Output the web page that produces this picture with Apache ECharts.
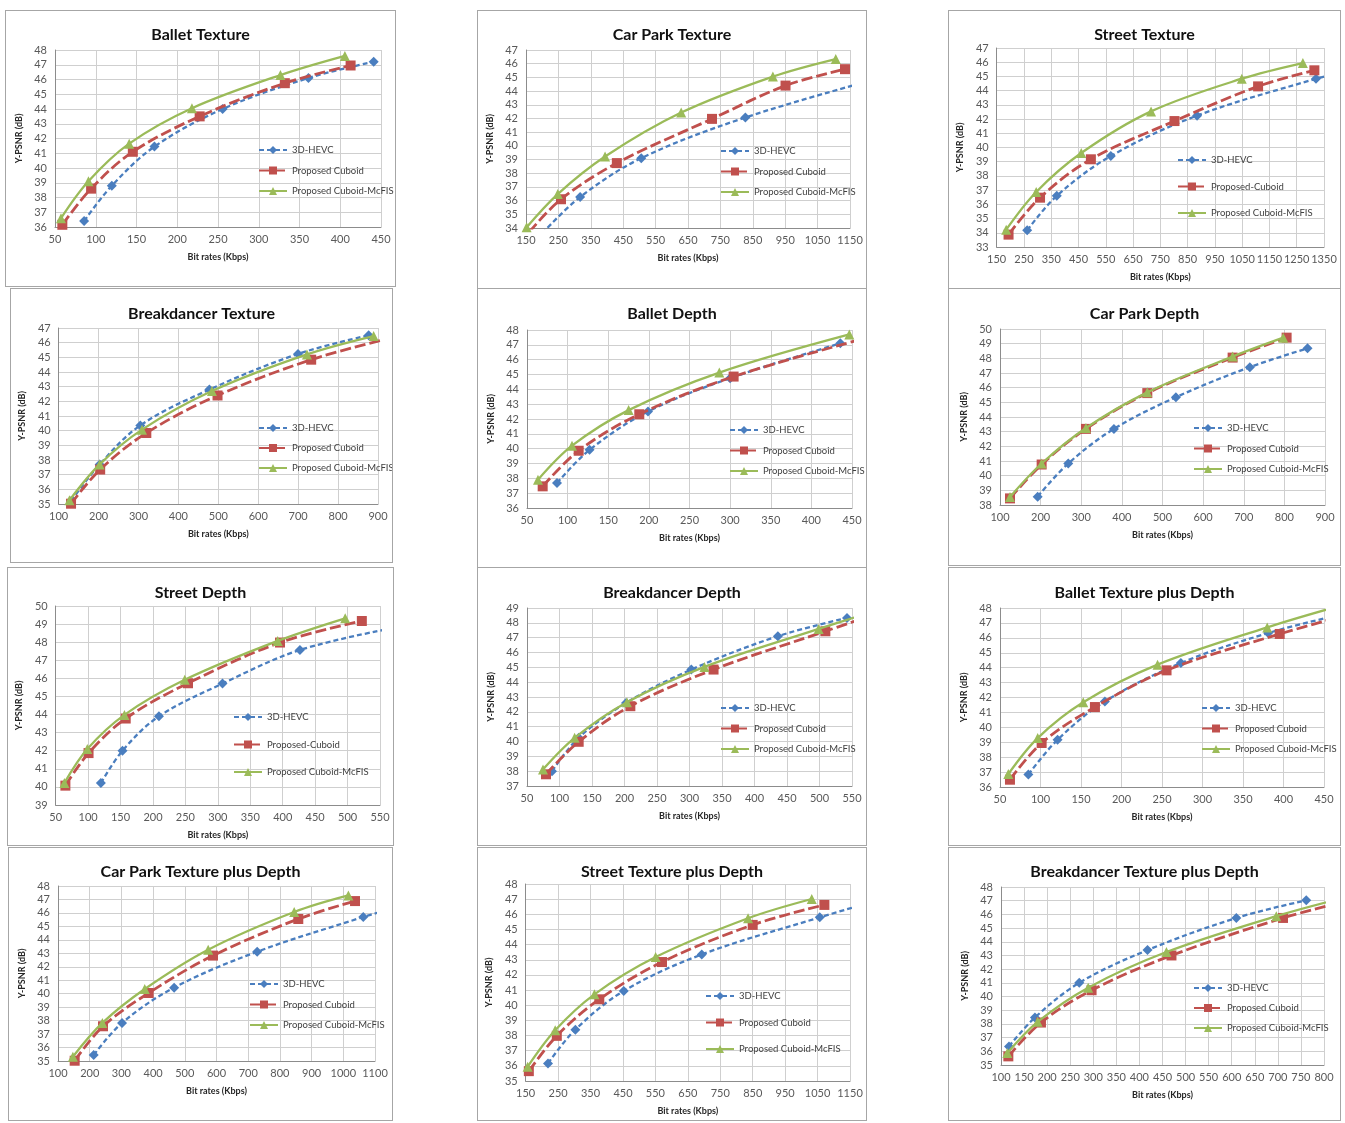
<!DOCTYPE html>
<html><head><meta charset="utf-8">
<script src="https://cdn.jsdelivr.net/npm/echarts@6/dist/echarts.min.js"></script>
<style>
body{margin:0;background:#fff;width:1345px;height:1123px;position:relative;overflow:hidden}
.c{position:absolute}
.b{position:absolute;box-sizing:border-box;border:1px solid #a6a6a6;pointer-events:none}
</style>
</head><body>
<script>
// ---------- data (x = bit rate Kbps, y = Y-PSNR dB) ----------
const balletTexture_hevc   = [[85.7,36.4],[119.7,38.8],[172,41.45],[255.7,44.0],[361,46.1],[441,47.2]];
const balletTexture_cuboid = [[59,36.15],[94.3,38.6],[145.5,41.1],[227.5,43.5],[332,45.75],[412.7,46.95]];
const balletTexture_mcfis  = [[57.4,36.6],[91,39.1],[141,41.65],[218,44.05],[326.6,46.3],[405.7,47.6]];

const carParkTexture_hevc   = [[200,33.6],[317,36.26],[505.7,39.1],[827,42.07],[1250,45.0]];
const carParkTexture_cuboid = [[160,33.7],[258,36.1],[430.4,38.74],[724,41.97],[951,44.4],[1134.5,45.6]];
const carParkTexture_mcfis  = [[152,34.05],[248,36.48],[394,39.22],[629,42.43],[912,45.06],[1106,46.34]];

const streetTexture_hevc   = [[262,34.17],[370.4,36.6],[568.5,39.4],[884.6,42.24],[1320.6,44.84],[1400,45.2]];
const streetTexture_cuboid = [[193.6,33.87],[309,36.47],[495.4,39.17],[801.9,41.86],[1108.4,44.3],[1314.7,45.43]];
const streetTexture_mcfis  = [[185,34.22],[295,36.87],[460,39.61],[716,42.54],[1048.6,44.84],[1272.5,45.94]];

const breakTexture_hevc   = [[131,35.2],[202.7,37.7],[304.6,40.36],[477.5,42.8],[699.6,45.23],[876.6,46.5]];
const breakTexture_cuboid = [[131,35.02],[204,37.35],[319.6,39.84],[498,42.4],[732.6,44.84],[915,46.2]];
const breakTexture_mcfis  = [[127,35.25],[202.7,37.7],[308.8,40.07],[484,42.7],[722,45.2],[889,46.45]];

const balletDepth_hevc   = [[86.9,37.68],[127,39.92],[198.9,42.5],[300,44.75],[435.6,47.1]];
const balletDepth_cuboid = [[69.3,37.46],[113.6,39.86],[188.2,42.32],[304.3,44.86],[470,47.5]];
const balletDepth_mcfis  = [[63.5,37.9],[105.4,40.2],[175.1,42.6],[286.7,45.13],[446.7,47.7]];

const carParkDepth_hevc   = [[192.7,38.57],[268,40.83],[380.5,43.19],[533,45.35],[715,47.4],[857,48.68]];
const carParkDepth_cuboid = [[124.6,38.45],[202.5,40.76],[311.6,43.19],[462.6,45.63],[672.6,48.05],[805.5,49.41]];
const carParkDepth_mcfis  = [[124.6,38.55],[202.5,40.83],[311.6,43.25],[462.6,45.68],[672.6,48.12],[797.3,49.41]];

const streetDepth_hevc   = [[119.7,40.21],[153,42.0],[209.2,43.9],[307.2,45.71],[426.6,47.57],[580,48.85]];
const streetDepth_cuboid = [[65,40.07],[100.7,41.87],[158,43.78],[254,45.73],[395.8,47.98],[522,49.17]];
const streetDepth_mcfis  = [[63.4,40.21],[98.8,42.09],[156,43.98],[249,45.92],[392.3,48.07],[496.3,49.32]];

const breakDepth_hevc   = [[88.5,38.0],[129.5,40.25],[202.3,42.6],[302.8,44.85],[436,47.1],[542.3,48.33]];
const breakDepth_cuboid = [[79.2,37.79],[129.5,39.98],[209,42.38],[337,44.85],[509,47.43],[560,48.2]];
const breakDepth_mcfis  = [[74.6,38.12],[123.3,40.25],[203.8,42.65],[323,45.03],[498.7,47.59],[560,48.45]];

const balletTD_hevc   = [[85,36.83],[121.1,39.17],[179.5,41.74],[273.3,44.31],[381,46.32],[470,47.55]];
const balletTD_cuboid = [[62.3,36.49],[101.4,38.95],[167.2,41.36],[255.6,43.82],[395.3,46.26],[470,47.4]];
const balletTD_mcfis  = [[60.3,36.87],[96.5,39.28],[152.8,41.68],[244.5,44.2],[379.9,46.7],[470,48.15]];

const carParkTD_hevc   = [[212.6,35.44],[302,37.83],[466.3,40.45],[728.4,43.12],[1063,45.7],[1120,46.1]];
const carParkTD_cuboid = [[152.6,35.02],[242,37.58],[386,40.05],[589,42.83],[858,45.55],[1037,46.88]];
const carParkTD_mcfis  = [[147,35.32],[240,37.83],[373.7,40.35],[573.7,43.27],[845,46.07],[1016,47.3]];

const streetTD_hevc   = [[218.8,36.16],[303.2,38.39],[452.5,40.94],[693,43.35],[1056.7,45.8],[1200,46.7]];
const streetTD_cuboid = [[159.8,35.65],[246,37.98],[377,40.39],[570.4,42.85],[850,45.3],[1071,46.62]];
const streetTD_mcfis  = [[156,35.94],[241,38.35],[362,40.72],[550.8,43.18],[835.7,45.74],[1032,47.01]];

const breakTD_hevc   = [[117.3,36.36],[173.6,38.47],[269.6,41.0],[417.5,43.39],[610,45.74],[761.6,47.03]];
const breakTD_cuboid = [[115.9,35.63],[186.6,38.1],[296.3,40.46],[469.4,43.0],[711.2,45.74],[830,46.8]];
const breakTD_mcfis  = [[113.7,35.87],[179.4,38.15],[289,40.65],[458.6,43.25],[696.7,45.87],[830,47.1]];

// ---------- titles, legend names, axis ranges [min,max,step] ----------
const titles = ['Ballet Texture','Car Park Texture','Street Texture','Breakdancer Texture','Ballet Depth','Car Park Depth',
  'Street Depth','Breakdancer Depth','Ballet Texture plus Depth','Car Park Texture plus Depth','Street Texture plus Depth','Breakdancer Texture plus Depth'];
const namesStd = ['3D-HEVC','Proposed Cuboid','Proposed Cuboid-McFIS'];
const namesHyph = ['3D-HEVC','Proposed-Cuboid','Proposed Cuboid-McFIS'];
const legendNames = [namesStd,namesStd,namesHyph,namesStd,namesStd,namesStd,namesHyph,namesStd,namesStd,namesStd,namesStd,namesStd];
const xRanges = [[50,450,50],[150,1150,100],[150,1350,100],[100,900,100],[50,450,50],[100,900,100],
  [50,550,50],[50,550,50],[50,450,50],[100,1100,100],[150,1150,100],[100,800,50]];
const yRanges = [[36,48,1],[34,47,1],[33,47,1],[35,47,1],[36,48,1],[38,50,1],
  [39,50,1],[37,49,1],[36,48,1],[35,48,1],[35,48,1],[35,48,1]];
const seriesData = [
  [balletTexture_hevc,balletTexture_cuboid,balletTexture_mcfis],
  [carParkTexture_hevc,carParkTexture_cuboid,carParkTexture_mcfis],
  [streetTexture_hevc,streetTexture_cuboid,streetTexture_mcfis],
  [breakTexture_hevc,breakTexture_cuboid,breakTexture_mcfis],
  [balletDepth_hevc,balletDepth_cuboid,balletDepth_mcfis],
  [carParkDepth_hevc,carParkDepth_cuboid,carParkDepth_mcfis],
  [streetDepth_hevc,streetDepth_cuboid,streetDepth_mcfis],
  [breakDepth_hevc,breakDepth_cuboid,breakDepth_mcfis],
  [balletTD_hevc,balletTD_cuboid,balletTD_mcfis],
  [carParkTD_hevc,carParkTD_cuboid,carParkTD_mcfis],
  [streetTD_hevc,streetTD_cuboid,streetTD_mcfis],
  [breakTD_hevc,breakTD_cuboid,breakTD_mcfis]
];

// ---------- layout (page pixels) ----------
const boxes = [[5,10,391,277],[477,10,390,279],[948,10,393,279],
  [10,288,383,275],[477,288,390,280],[948,288,393,278],
  [7,567,387,279],[477,567,390,279],[948,567,393,279],
  [8,847,385,274],[477,847,390,274],[948,847,393,274]];
const plots = [[55,50,381,227],[526,50,850,228],[985,48,1324,247],
  [58,328,378,504],[527,330,852,508],[1000,329,1325,505],
  [45,606,380,805],[527,608,852,786],[1000,608,1324,787],
  [58,886,375,1061],[511,884,850,1082],[1001,887,1324,1065]];
const titleY = [32,32,32,311,311,311,590,590,590,869,869,869];
const legends = [[253,145,20.5],[715,146,20.5],[1172,155,26.5],
  [253,423,20],[724,425,20.5],[1188,423,20.5],
  [228,712,27.5],[715,703,20.5],[1196,703,20.5],
  [244,979,20.5],[700,991,26.5],[1188,983,20]];

const FONT = 'Lato, "Liberation Sans", sans-serif';
const styles = [
  {color:'#4a7ebf', symbol:'diamond', size:10, width:2.3, type:[5,3]},
  {color:'#c0504d', symbol:'rect', size:10, width:2.8, type:[11,4]},
  {color:'#9bbb59', symbol:'triangle', size:10, width:2.3, type:'solid'}
];

for (let i = 0; i < 12; i++) {
  const [bx,by,bw,bh] = boxes[i];
  const [pl,pt,pr,pb] = plots[i];
  const el = document.createElement('div');
  el.className = 'c';
  el.style.cssText = `left:${bx}px;top:${by}px;width:${bw}px;height:${bh}px`;
  document.body.appendChild(el);
  const br = document.createElement('div');
  br.className = 'b';
  br.style.cssText = `left:${bx}px;top:${by}px;width:${bw}px;height:${bh}px`;
  document.body.appendChild(br);

  const chart = echarts.init(el, null, {renderer:'canvas'});
  const [lx,ly,lg] = legends[i];
  const axisCommon = {
    type:'value',
    axisLine:{show:true, lineStyle:{color:'#8c8c8c', width:1}},
    axisTick:{show:false},
    splitLine:{show:true, lineStyle:{color:'#cfcfcf', width:1}},
    axisLabel:{color:'#595959', fontSize:11, fontFamily:FONT, formatter:(v)=>String(v)},
    nameLocation:'middle',
    nameTextStyle:{fontWeight:'bold', fontSize:9, color:'#262626', fontFamily:FONT}
  };
  chart.setOption({
    animation:false,
    backgroundColor:'#fff',
    title:{text:titles[i], left:'center', top:titleY[i]-by-10,
      textStyle:{fontSize:16, fontWeight:'bold', color:'#111', fontFamily:FONT}},
    grid:{left:pl-bx, top:pt-by, width:pr-pl, height:pb-pt, containLabel:false},
    legend:{orient:'vertical', left:lx-bx, top:ly-by-6, itemWidth:28, itemHeight:10,
      itemGap:lg-12, data:legendNames[i],
      textStyle:{fontSize:9.5, color:'#404040', lineHeight:12, fontFamily:FONT}},
    xAxis:Object.assign({}, axisCommon, {min:xRanges[i][0], max:xRanges[i][1], interval:xRanges[i][2],
      name:'Bit rates (Kbps)', nameGap:26,
      axisLabel:Object.assign({}, axisCommon.axisLabel, {margin:7})}),
    yAxis:Object.assign({}, axisCommon, {min:yRanges[i][0], max:yRanges[i][1], interval:yRanges[i][2],
      name:'Y-PSNR (dB)', nameGap:25, nameRotate:90,
      axisLabel:Object.assign({}, axisCommon.axisLabel, {margin:8})}),
    series: seriesData[i].map((d, k) => ({
      type:'line', name:legendNames[i][k], data:d, smooth:0.35,
      symbol:styles[k].symbol, symbolSize:styles[k].size, clip:true,
      lineStyle:{color:styles[k].color, width:styles[k].width, type:styles[k].type},
      itemStyle:{color:styles[k].color}, z:2+k
    }))
  });
}
</script>
</body></html>
